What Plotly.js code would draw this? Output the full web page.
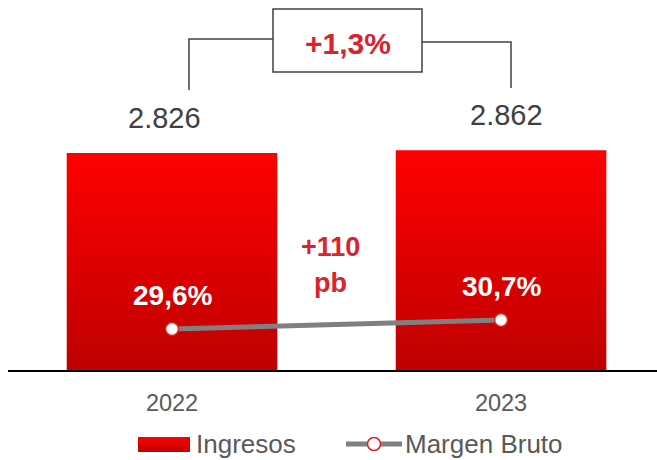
<!DOCTYPE html>
<html><head><meta charset="utf-8">
<script src="https://cdn.plot.ly/plotly-3.0.1.min.js"></script>
<style>body{margin:0;background:#fff}#chart{width:657px;height:460px}</style>
</head><body><div id="chart"></div>
<script>
const years = ['2022', '2023'];
const ingresos = [2826, 2862];
const margenBruto = [29.6, 30.7];
const seriesNames = ['Ingresos', 'Margen Bruto'];

const W = 657, H = 460, L = 8, R = 0, T = 0, B = 90;
const PW = W - L - R, PH = H - T - B;
const X = px => (px - L) / PW;
const Y = py => (PH + T - py) / PH;

const fmtThousands = v => String(v).replace(/\B(?=(\d{3})+(?!\d))/g, '.');
const fmtPct = v => v.toFixed(1).replace('.', ',') + '%';
const growth = (ingresos[1] / ingresos[0] - 1) * 100;
const growthTxt = '+' + growth.toFixed(1).replace('.', ',') + '%';
const bps = Math.round((margenBruto[1] - margenBruto[0]) * 100);

const FONT = 'Liberation Sans, Arial, sans-serif';
const RED = '#d9232e';
const DARK = '#404040';
const GREY = '#595959';

const traces = [
  {
    type: 'bar', x: years, y: ingresos, name: seriesNames[0],
    width: 0.64, marker: {color: '#e00000', line: {width: 0}},
    hoverinfo: 'skip', showlegend: false
  },
  {
    type: 'scatter', mode: 'lines+markers', x: years, y: margenBruto, yaxis: 'y2',
    name: seriesNames[1], line: {color: '#808080', width: 5},
    marker: {size: 13, color: '#ffffff', line: {color: '#e0201a', width: 1.5}},
    hoverinfo: 'skip', showlegend: false, cliponaxis: false
  }
];

const valueShift = [-8, 5];
const annotations = [];
ingresos.forEach((v, i) => annotations.push({
  xref: 'x', yref: 'y', x: i, y: v, yshift: 35, xshift: valueShift[i], xanchor: 'center', yanchor: 'middle',
  text: fmtThousands(v), showarrow: false, font: {family: FONT, size: 29, color: DARK}
}));
margenBruto.forEach((v, i) => annotations.push({
  xref: 'x', yref: 'y2', x: i, y: v, yshift: 34, xanchor: 'center', yanchor: 'middle',
  text: '<b>' + fmtPct(v) + '</b>', showarrow: false, font: {family: FONT, size: 28, color: '#ffffff'}
}));
const paperText = (px, py, text, size, color, xanchor) => ({
  xref: 'paper', yref: 'paper', x: X(px), y: Y(py), xanchor: xanchor || 'center', yanchor: 'middle',
  text: text, showarrow: false, font: {family: FONT, size: size, color: color}
});
annotations.push(
  paperText(348, 43, '<b>' + growthTxt + '</b>', 30, RED),
  paperText(330, 247, '<b>+' + bps + '</b>', 27, RED),
  paperText(330, 283, '<b>pb</b>', 27, RED),
  paperText(194, 444, seriesNames[0], 26, GREY, 'left'),
  paperText(403, 444, seriesNames[1], 26, GREY, 'left')
);

const lc = {color: DARK, width: 1.5};
const shapes = [
  {type: 'path', xref: 'paper', yref: 'paper', line: lc,
   path: `M${X(189)},${Y(90)} L${X(189)},${Y(39)} L${X(273)},${Y(39)}`},
  {type: 'path', xref: 'paper', yref: 'paper', line: lc,
   path: `M${X(422)},${Y(42)} L${X(511)},${Y(42)} L${X(511)},${Y(88)}`},
  {type: 'rect', xref: 'paper', yref: 'paper', line: lc, fillcolor: 'rgba(0,0,0,0)',
   x0: X(273), x1: X(422), y0: Y(9), y1: Y(72)},
  {type: 'rect', xref: 'paper', yref: 'paper', line: {width: 0}, fillcolor: '#e00000',
   x0: X(138), x1: X(190), y0: Y(437), y1: Y(452)},
  {type: 'line', xref: 'paper', yref: 'paper', line: {color: '#808080', width: 5},
   x0: X(346), x1: X(402), y0: Y(444), y1: Y(444)},
  {type: 'circle', xref: 'paper', yref: 'paper', line: {color: '#e0201a', width: 1.5}, fillcolor: '#ffffff',
   x0: X(367.5), x1: X(380.5), y0: Y(437.5), y1: Y(450.5)}
];

const layout = {
  width: W, height: H, margin: {l: L, r: R, t: T, b: B},
  paper_bgcolor: '#ffffff', plot_bgcolor: 'rgba(0,0,0,0)',
  showlegend: false,
  xaxis: {type: 'category', range: [-0.4985, 1.474], showgrid: false, zeroline: false,
    showline: true, linecolor: '#000000', linewidth: 2, ticks: '',
    ticklabelstandoff: 11, tickfont: {family: FONT, size: 23.5, color: GREY}, fixedrange: true},
  yaxis: {range: [0, 4818], visible: false, fixedrange: true},
  yaxis2: {range: [24.59, 69.8], overlaying: 'y', visible: false, fixedrange: true},
  annotations: annotations, shapes: shapes
};

Plotly.newPlot('chart', traces, layout, {staticPlot: true, displayModeBar: false}).then(gd => {
  const svg = gd.querySelector('svg.main-svg');
  const ns = 'http://www.w3.org/2000/svg';
  let defs = svg.querySelector('defs');
  if (!defs) { defs = document.createElementNS(ns, 'defs'); svg.insertBefore(defs, svg.firstChild); }
  const g = document.createElementNS(ns, 'linearGradient');
  g.setAttribute('id', 'barGrad'); g.setAttribute('x1', '0'); g.setAttribute('y1', '0');
  g.setAttribute('x2', '0'); g.setAttribute('y2', '1');
  [['0', '#ff0000'], ['1', '#bf0000']].forEach(([o, c]) => {
    const s = document.createElementNS(ns, 'stop');
    s.setAttribute('offset', o); s.setAttribute('stop-color', c); g.appendChild(s);
  });
  defs.appendChild(g);
  gd.querySelectorAll('.barlayer .point path').forEach(p => p.style.fill = 'url(#barGrad)');
  gd.querySelectorAll('.shapelayer path').forEach(p => {
    if (p.style.fill && (p.style.fill.indexOf('224, 0, 0') >= 0 || p.style.fill === '#e00000')) p.style.fill = 'url(#barGrad)';
  });
});
</script></body></html>
